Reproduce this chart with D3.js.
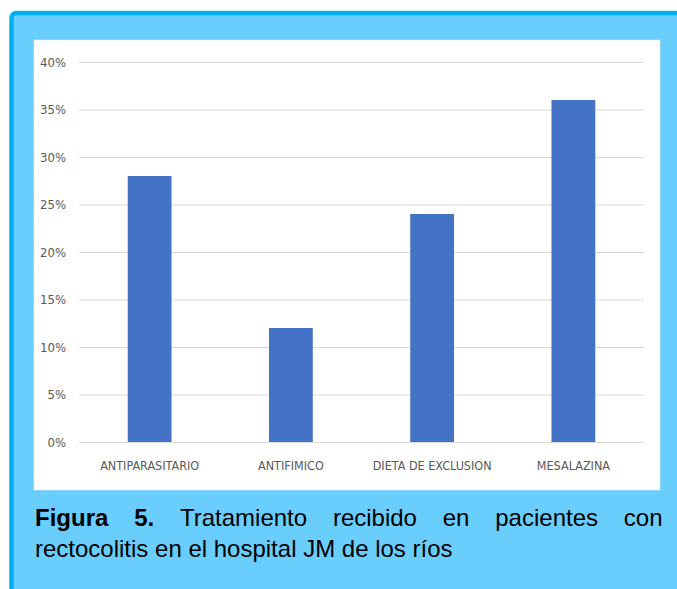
<!DOCTYPE html>
<html>
<head>
<meta charset="utf-8">
<script src="https://cdn.jsdelivr.net/npm/d3@7"></script>
<style>
  html, body { margin: 0; padding: 0; background: #ffffff; }
  svg { display: block; }
</style>
</head>
<body>
<svg id="fig" width="677" height="589"></svg>
<script>
// Treatment shares by category
const categories = ["ANTIPARASITARIO", "ANTIFIMICO", "DIETA DE EXCLUSION", "MESALAZINA"];
const shares = [0.28, 0.12, 0.24, 0.36];
const yTickValues = [0, 0.05, 0.10, 0.15, 0.20, 0.25, 0.30, 0.35, 0.40];

// Caption words: [text, bold]
const captionLine1 = [["Figura", true], ["5.", true], ["Tratamiento", false], ["recibido", false],
                      ["en", false], ["pacientes", false], ["con", false]];
const captionLine2 = "rectocolitis en el hospital JM de los ríos";

const svg = d3.select("#fig");

// Framed box: light blue fill with a darker blue rule on the top and left edges
svg.append("rect")
  .attr("x", 11.5).attr("y", 13)
  .attr("width", 700).attr("height", 620)
  .attr("rx", 5).attr("ry", 5)
  .attr("fill", "#69CDFE")
  .attr("stroke", "#00B0F0")
  .attr("stroke-width", 4.5);

// White chart panel
svg.append("rect")
  .attr("x", 34).attr("y", 40)
  .attr("width", 626).attr("height", 450)
  .attr("fill", "#ffffff")
  .attr("stroke", "#e6e6e6")
  .attr("stroke-width", 0.6);

const plotLeft = 79, plotRight = 644, plotTop = 62, plotBottom = 442;

const x = d3.scaleBand()
  .domain(categories)
  .range([plotLeft, plotRight])
  .paddingInner(0.69)
  .paddingOuter(0.345);

const y = d3.scaleLinear()
  .domain([0, 0.4])
  .range([plotBottom, plotTop]);

const labelFont = "'Liberation Sans Narrow', 'DejaVu Sans Condensed', 'Arial Narrow', sans-serif";

// Horizontal gridlines + percentage labels
const yAxis = svg.append("g")
  .attr("transform", `translate(${plotLeft},0)`)
  .call(d3.axisLeft(y)
    .tickValues(yTickValues)
    .tickFormat(d3.format(".0%"))
    .tickSize(-(plotRight - plotLeft))
    .tickPadding(13));
yAxis.select(".domain").remove();
yAxis.selectAll(".tick line").attr("stroke", "#d9d9d9").attr("stroke-width", 1);
yAxis.selectAll(".tick text")
  .attr("fill", "#595959")
  .style("font-family", labelFont)
  .style("font-size", "13px");

// Bars
svg.append("g").selectAll("rect")
  .data(categories.map((c, i) => ({ c, v: shares[i] })))
  .join("rect")
  .attr("x", d => x(d.c))
  .attr("width", x.bandwidth())
  .attr("y", d => y(d.v))
  .attr("height", d => y(0) - y(d.v))
  .attr("fill", "#4472C4");

// Category labels
const xAxis = svg.append("g")
  .attr("transform", `translate(0,${plotBottom})`)
  .call(d3.axisBottom(x).tickSize(0).tickPadding(19));
xAxis.select(".domain").remove();
xAxis.selectAll(".tick text")
  .attr("fill", "#595959")
  .style("font-family", labelFont)
  .style("font-size", "12.5px");

// Caption, first line justified across the panel width
const capFont = "'Liberation Sans', Arial, sans-serif";
const capSize = 24;
const capLeft = 35, capRight = 662.5;
const line1 = svg.append("g");
const words = line1.selectAll("text")
  .data(captionLine1)
  .join("text")
  .attr("y", 526)
  .attr("fill", "#000")
  .style("font-family", capFont)
  .style("font-size", capSize + "px")
  .style("font-weight", d => d[1] ? "bold" : "normal")
  .text(d => d[0]);
const widths = words.nodes().map(n => n.getComputedTextLength());
const gap = (capRight - capLeft - d3.sum(widths)) / (widths.length - 1);
let cx = capLeft;
words.each(function(d, i) {
  d3.select(this).attr("x", cx);
  cx += widths[i] + gap;
});

svg.append("text")
  .attr("x", capLeft).attr("y", 557)
  .attr("fill", "#000")
  .style("font-family", capFont)
  .style("font-size", capSize + "px")
  .text(captionLine2);
</script>
</body>
</html>
